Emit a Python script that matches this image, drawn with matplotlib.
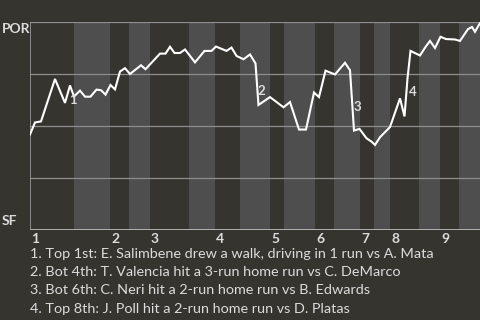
import matplotlib
matplotlib.use("Agg")
import matplotlib.pyplot as plt

# win probability for POR (1 = POR wins, 0 = SF wins), x = game progress
prog = [0, 1.0, 2.2, 5.0, 7.0, 8.0, 8.8, 10.0, 11.0, 12.1, 13.3, 14.2, 15.1,
        16.1, 17.0, 18.0, 19.0, 20.0, 22.2, 23.1, 26.0, 27.1, 28.0, 28.9,
        30.0, 31.0, 33.0, 34.9, 36.3, 37.2, 39.3, 40.3, 41.3, 42.7, 44.0,
        45.1, 45.7, 48.0, 50.7, 52.0, 53.8, 55.2, 56.8, 57.8, 59.1, 61.0,
        63.0, 64.0, 64.8, 65.9, 67.3, 68.3, 69.0, 70.0, 72.0, 74.0, 74.9,
        75.5, 76.1, 78.0, 79.1, 80.0, 81.0, 82.1, 83.2, 85.0, 86.0, 87.6,
        88.4, 89.0, 90.0]
win_prob = [0.459, 0.517, 0.522, 0.726, 0.611, 0.695, 0.642, 0.670, 0.641,
            0.641, 0.675, 0.672, 0.651, 0.697, 0.676, 0.762, 0.778, 0.750,
            0.792, 0.773, 0.848, 0.848, 0.881, 0.851, 0.851, 0.868, 0.806,
            0.861, 0.861, 0.882, 0.861, 0.877, 0.837, 0.821, 0.844, 0.801,
            0.601, 0.639, 0.590, 0.615, 0.483, 0.483, 0.661, 0.639, 0.766,
            0.748, 0.804, 0.768, 0.478, 0.486, 0.441, 0.425, 0.409, 0.446,
            0.495, 0.633, 0.546, 0.729, 0.861, 0.839, 0.880, 0.909, 0.875,
            0.929, 0.918, 0.916, 0.909, 0.966, 0.976, 0.953, 0.995]

# start of each half inning (top 1st, bot 1st, ...) and the end of the game
half_starts = [0, 8.8, 16, 19.8, 24, 31.8, 37, 42, 48, 50.8, 57, 60.8,
               66, 68.8, 72, 77.8, 82, 85.8, 90]
innings = ["1", "2", "3", "4", "5", "6", "7", "8", "9"]

# key plays
play_x = [8.5, 46.3, 65.5, 76.5]
play_y = [0.623, 0.670, 0.590, 0.662]
play_text = [
    "1. Top 1st: E. Salimbene drew a walk, driving in 1 run vs A. Mata",
    "2. Bot 4th: T. Valencia hit a 3-run home run vs C. DeMarco",
    "3. Bot 6th: C. Neri hit a 2-run home run vs B. Edwards",
    "4. Top 8th: J. Poll hit a 2-run home run vs D. Platas",
]

bg = "#36342f"
band = "#4e4e4e"
txt = "#dcdcdc"
plt.rcParams["font.family"] = ["Lato", "DejaVu Sans"]

fig = plt.figure(figsize=(4.8, 3.2), dpi=100, facecolor=bg)
ax = fig.add_axes([30 / 480, 90 / 320, 450 / 480, 208 / 320])
ax.set_facecolor(bg)

# bottom halves get the lighter band
for i in range(1, len(half_starts) - 1, 2):
    ax.axvspan(half_starts[i], half_starts[i + 1], color=band, lw=0)

for g in [0.25, 0.5, 0.75, 1.0]:
    ax.axhline(g, color="#8e8e8e", lw=0.9)
ax.axhline(0, color="#c4c4c4", lw=1.2)
ax.axvline(0, color="#9a9a9a", lw=1.2)

ax.plot(prog, win_prob, color="white", lw=1.5, solid_joinstyle="miter")

for n, x, y in zip(range(1, 5), play_x, play_y):
    ax.text(x, y, str(n), color=txt, fontsize=9.5, fontweight="bold",
            ha="center", va="center")

ax.set_xlim(0, 90)
ax.set_ylim(0, 1)
ax.axis("off")

fig.text(2 / 480, 1 - 29 / 320, "POR", color=txt, fontsize=10,
         fontweight="bold", ha="left", va="center")
fig.text(2 / 480, 1 - 221 / 320, "SF", color=txt, fontsize=10,
         fontweight="bold", ha="left", va="center")

for lab, x in zip(innings, half_starts[0::2]):
    ax.text(x + 0.2, -0.015, lab, color=txt, fontsize=10, fontweight="bold",
            ha="left", va="top")

for k, line in enumerate(play_text):
    fig.text(30 / 480, 1 - (254 + 18.2 * k) / 320, line, color=txt,
             fontsize=10.4, ha="left", va="center")

fig.savefig("out.png", dpi=100, facecolor=bg)
